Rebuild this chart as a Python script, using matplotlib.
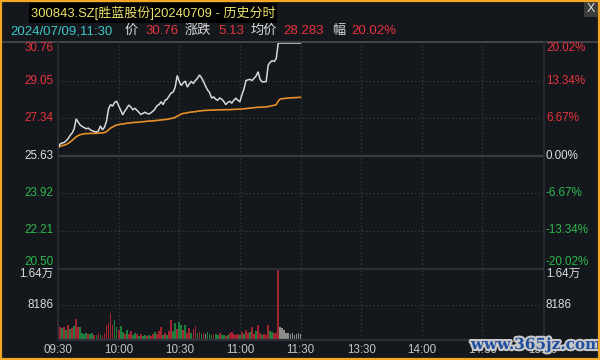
import matplotlib
matplotlib.use("Agg")
import matplotlib.pyplot as plt
import matplotlib.patheffects as pe
from matplotlib.patches import Rectangle
from matplotlib.lines import Line2D

plt.rcParams['font.family'] = ['Liberation Sans', 'Noto Sans CJK SC', 'DejaVu Sans']

# ---------------- data ----------------
title = "300843.SZ[胜蓝股份]20240709 - 历史分时"
info_time = "2024/07/09,11:30"
info_price = "30.76"
info_change = "5.13"
info_avg = "28.283"
info_pct = "20.02%"

prev_close = 25.63
price_ticks_left = ["30.76", "29.05", "27.34", "25.63", "23.92", "22.21", "20.50"]
price_ticks_right = ["20.02%", "13.34%", "6.67%", "0.00%", "-6.67%", "-13.34%", "-20.02%"]
price_tick_vals = [30.76, 29.05, 27.34, 25.63, 23.92, 22.21, 20.50]
vol_max = 16372
vol_ticks = [16372, 8186]
vol_tick_labels = ["1.64万", "8186"]
time_tick_pos = [0, 30, 60, 90, 120, 150, 180, 210, 240]
time_tick_labels = ["09:30", "10:00", "10:30", "11:00", "11:30", "13:30", "14:00", "14:30", "15:00"]

price = [25.98, 26.15, 26.20, 26.22, 26.30, 26.40, 26.55, 26.65, 26.85, 27.30,
         27.15, 27.02, 26.95, 26.90, 26.85, 26.88, 26.80, 26.76, 26.72, 26.70,
         26.75, 26.98, 26.80, 26.92, 27.20, 27.75, 27.95, 27.88, 28.05, 28.10,
         27.90, 27.70, 27.48, 27.65, 27.78, 27.93, 27.85, 27.72, 27.78, 27.70,
         27.60, 27.50, 27.55, 27.60, 27.55, 27.52, 27.58, 27.65, 27.75, 27.90,
         27.95, 28.08, 27.95, 28.15, 28.20, 28.35, 28.48, 28.52, 28.75, 29.28,
         29.00, 28.82, 28.95, 29.02, 28.75, 28.90, 29.00, 28.92, 29.05, 29.15,
         29.30, 29.18, 29.00, 28.80, 28.62, 28.50, 28.25, 28.30, 28.20, 28.15,
         28.25, 28.20, 28.10, 27.95, 28.05, 28.10, 28.02, 28.15, 28.24, 28.15,
         28.08, 28.40, 28.65, 29.05, 29.08, 29.10, 29.05, 29.15, 29.25, 29.45,
         29.10, 28.99, 28.99, 29.00, 29.75, 29.88, 29.95, 29.92, 30.05, 30.76,
         30.76, 30.76, 30.76, 30.76, 30.76, 30.76, 30.76, 30.76, 30.76, 30.76,
         30.76]

avg_price = [25.98, 26.05, 26.08, 26.10, 26.13, 26.18, 26.25, 26.32, 26.40, 26.48,
             26.54, 26.58, 26.60, 26.62, 26.63, 26.63, 26.64, 26.64, 26.64, 26.64,
             26.65, 26.66, 26.66, 26.68, 26.72, 26.80, 26.88, 26.93, 26.98, 27.02,
             27.04, 27.06, 27.07, 27.08, 27.10, 27.11, 27.12, 27.13, 27.14, 27.14,
             27.15, 27.16, 27.17, 27.18, 27.19, 27.20, 27.20, 27.21, 27.22, 27.23,
             27.24, 27.25, 27.26, 27.27, 27.28, 27.30, 27.32, 27.34, 27.37, 27.42,
             27.47, 27.52, 27.55, 27.56, 27.58, 27.60, 27.61, 27.62, 27.63, 27.65,
             27.66, 27.67, 27.68, 27.69, 27.69, 27.70, 27.70, 27.70, 27.71, 27.71,
             27.71, 27.71, 27.72, 27.72, 27.72, 27.72, 27.73, 27.73, 27.74, 27.74,
             27.74, 27.75, 27.76, 27.77, 27.78, 27.79, 27.80, 27.81, 27.82, 27.83,
             27.83, 27.84, 27.84, 27.85, 27.86, 27.88, 27.90, 27.92, 27.95, 28.12,
             28.20, 28.22, 28.23, 28.24, 28.25, 28.26, 28.26, 28.27, 28.27, 28.28,
             28.283]

volume = [4270, 2840, 2610, 2840, 2130, 3320, 2370, 2610, 3080, 4740,
          2840, 2840, 1420, 1190, 1420, 1190, 1190, 1420, 950, 950,
          1420, 950, 710, 1420, 3320, 3790, 6160, 3320, 4500, 2840,
          2130, 3080, 1660, 1190, 2130, 1190, 1900, 950, 1420, 1190,
          710, 1190, 710, 950, 710, 950, 710, 1190, 1660, 1190,
          1900, 2840, 950, 1420, 950, 1900, 4500, 1900, 3790, 2370,
          4030, 3320, 2130, 3320, 1420, 2610, 1420, 2370, 3080, 1420,
          1660, 1190, 1420, 1190, 1660, 1190, 950, 1190, 1190, 950,
          1420, 950, 950, 710, 950, 1420, 1660, 1190, 950, 1190,
          950, 1660, 1190, 2130, 1420, 1660, 2840, 1190, 1900, 3320,
          1420, 950, 1190, 950, 3320, 1900, 1660, 1420, 1420, 16350,
          2840, 2610, 2130, 1420, 1420, 1190, 1420, 950, 1190, 1420,
          1190]

# r = up (red), g = down (green), n = unchanged (gray)
vol_dir = ("rrgrgrgrgr" "rggggrggrg" "rgrrrrrrgg" "rggrgrrggr"
           "grggrgrrgr" "rrgrgrrggr" "ggrgrrgrrg" "rgrngggrgg"
           "rggrgrrrrr" "grgrrgrrgr" "rgrrrggrrr" "nnnnnnnnnn" "n")

# ---------------- style ----------------
BG = "#14171c"
RED_T = "#e8343f"
GREEN_T = "#2db84b"
WHITE_T = "#dcdcdc"
BAR_COL = {"r": "#a02431", "g": "#1f7d3d", "n": "#8c8c8c"}
W, H = 600, 360

fig = plt.figure(figsize=(6, 3.6), dpi=100, facecolor=BG)


def fx(x):
    return x / W


def fy(y):
    return 1 - y / H


# panel geometry (pixels)
PL, PR = 58, 543
P_TOP, P_BOT = 43, 268
V_TOP, V_BOT = 270, 339

axp = fig.add_axes([fx(PL), fy(P_BOT), (PR - PL) / W, (P_BOT - P_TOP) / H])
axv = fig.add_axes([fx(PL), fy(V_BOT), (PR - PL) / W, (V_BOT - V_TOP) / H])
for ax in (axp, axv):
    ax.set_facecolor("none")
    for s in ax.spines.values():
        s.set_visible(False)
    ax.set_xticks([])
    ax.set_yticks([])
    ax.set_xlim(0, 240)

axp.set_ylim(20.50, 30.76)
axv.set_ylim(0, vol_max)

GRID = "#383b41"
# vertical dotted grid
for t in time_tick_pos[1:-1]:
    axp.axvline(t, color=GRID, lw=0.9, ls=(0, (1, 2)), zorder=1)
    axv.axvline(t, color=GRID, lw=0.9, ls=(0, (1, 2)), zorder=1)
# horizontal grid price
for v in price_tick_vals[1:-1]:
    if v == prev_close:
        axp.axhline(v, color="#3a3d43", lw=1.6, zorder=1)
    else:
        axp.axhline(v, color=GRID, lw=0.9, ls=(0, (1, 2)), zorder=1)
axv.axhline(vol_ticks[1], color=GRID, lw=0.9, ls=(0, (1, 2)), zorder=1)

minutes = list(range(len(price)))
axp.plot(minutes, price, color="#d8d8d8", lw=1.1, zorder=4, solid_joinstyle="miter")
axp.plot(minutes, avg_price, color="#e88f28", lw=1.2, zorder=3)

bar_colors = [BAR_COL[c] for c in vol_dir]
axv.bar(minutes, volume, width=0.88, color=bar_colors, linewidth=0, zorder=3)

# frame lines in figure coords
def hline(y, x0, x1, color, lw=1.0):
    fig.add_artist(Line2D([fx(x0), fx(x1)], [fy(y), fy(y)], color=color, lw=lw, zorder=2))


def vline(x, y0, y1, color, lw=1.0):
    fig.add_artist(Line2D([fx(x), fx(x)], [fy(y0), fy(y1)], color=color, lw=lw, zorder=2))


hline(42, 0, W, "#4a4d52", 1.2)
hline(269, PL, PR, "#2c2f35", 1.6)
hline(339.5, PL, PR, "#2c2f35", 1.6)
vline(PL - 0.5, 42, 340, "#2a2d33", 1.3)
vline(PR + 0.5, 42, 340, "#2a2d33", 1.3)

# price axis labels
FS = 8.4
left_cols = [RED_T, RED_T, RED_T, WHITE_T, GREEN_T, GREEN_T, GREEN_T]
for i, (v, lab, rlab, col) in enumerate(zip(price_tick_vals, price_ticks_left, price_ticks_right, left_cols)):
    y = P_BOT - (v - 20.50) / (30.76 - 20.50) * (P_BOT - P_TOP)
    if i == 0:
        y += 5
    elif i == len(price_tick_vals) - 1:
        y -= 6
    fig.text(fx(53.5), fy(y), lab, color=col, fontsize=FS, ha="right", va="center")
    fig.text(fx(546), fy(y), rlab, color=col, fontsize=FS, ha="left", va="center")

for v, lab in zip(vol_ticks, vol_tick_labels):
    y = V_BOT - v / vol_max * (V_BOT - V_TOP)
    if v == vol_max:
        y += 4
    fig.text(fx(53.5), fy(y), lab, color=WHITE_T, fontsize=FS, ha="right", va="center")
    fig.text(fx(546), fy(y), lab, color=WHITE_T, fontsize=FS, ha="left", va="center")

for t, lab in zip(time_tick_pos, time_tick_labels):
    x = PL + t / 240 * (PR - PL)
    fig.text(fx(x), fy(350), lab, color="#c4c4c4", fontsize=FS, ha="center", va="center")

# header
fig.add_artist(Rectangle((fx(29), fy(23)), fx(277) - fx(29), fy(3) - fy(23),
                         transform=fig.transFigure, facecolor="#000000", edgecolor="none", zorder=1))
fig.text(fx(31), fy(12.5), title, color="#ece36a", fontsize=9.4, ha="left", va="center", zorder=3)

fig.add_artist(Rectangle((fx(584), fy(17)), fx(598) - fx(584), fy(1) - fy(17),
                         transform=fig.transFigure, facecolor="#3c3c3c", edgecolor="none", zorder=1))
fig.text(fx(591), fy(9), "X", color="#e0e0e0", fontsize=9, ha="center", va="center", zorder=3)

IY = 31
FS2 = 9.5
fig.text(fx(10.5), fy(IY), info_time, color="#3ec7c9", fontsize=FS2, ha="left", va="center")
fig.text(fx(125), fy(IY), "价", color=WHITE_T, fontsize=FS2, ha="left", va="center")
fig.text(fx(145), fy(IY), info_price, color=RED_T, fontsize=FS2, ha="left", va="center")
fig.text(fx(185), fy(IY), "涨跌", color=WHITE_T, fontsize=FS2, ha="left", va="center")
fig.text(fx(218), fy(IY), info_change, color=RED_T, fontsize=FS2, ha="left", va="center")
fig.text(fx(251), fy(IY), "均价", color=WHITE_T, fontsize=FS2, ha="left", va="center")
fig.text(fx(283), fy(IY), info_avg, color=RED_T, fontsize=FS2, ha="left", va="center")
fig.text(fx(332), fy(IY), "幅", color=WHITE_T, fontsize=FS2, ha="left", va="center")
fig.text(fx(351), fy(IY), info_pct, color=RED_T, fontsize=FS2, ha="left", va="center")

# watermark (present in the reference, overlapping the last time labels)
fig.text(fx(536), fy(345), "www.365jz.com", color="#1f4f9e", fontsize=11, family="DejaVu Serif",
         weight="bold", ha="center", va="center", zorder=10,
         path_effects=[pe.withStroke(linewidth=3, foreground="#c8c8c8")])

# orange border
fig.add_artist(Rectangle((0, 0), 1, 1, transform=fig.transFigure, facecolor="none",
                         edgecolor="#f5a623", lw=3, zorder=20))

fig.savefig("out.png", dpi=100, facecolor=BG)
